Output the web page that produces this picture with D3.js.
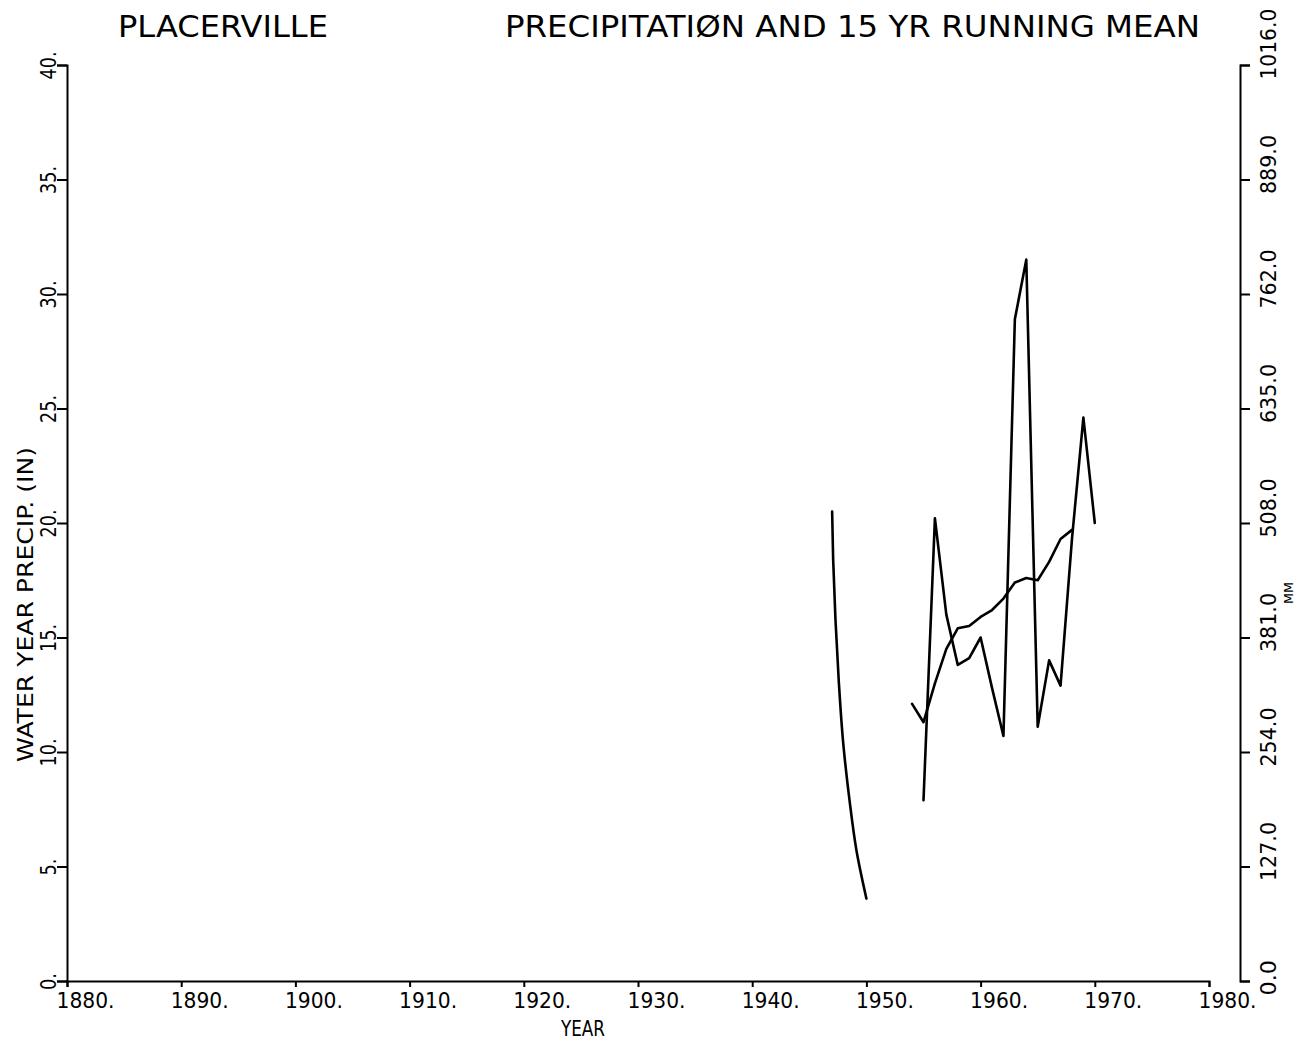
<!DOCTYPE html>
<html>
<head>
<meta charset="utf-8">
<script src="https://cdn.jsdelivr.net/npm/d3@7"></script>
<style>
  html, body { margin: 0; padding: 0; background: #fff; }
  svg { display: block; }
  text { font-family: "DejaVu Sans", "Liberation Sans", sans-serif; fill: #000; }
</style>
</head>
<body>
<script>
// ---- data ----
const stationName = "PLACERVILLE";
const chartTitle = "PRECIPITATIØN AND 15 YR RUNNING MEAN";
const xTickValues = [1880, 1890, 1900, 1910, 1920, 1930, 1940, 1950, 1960, 1970, 1980];
const yTickValues = [0, 5, 10, 15, 20, 25, 30, 35, 40];
const mmTickValues = [0, 127, 254, 381, 508, 635, 762, 889, 1016];

// early plotted segment (1947-1950)
const earlyYears  = [1947.0, 1947.09, 1947.29, 1947.58, 1947.95, 1948.52, 1949.13, 1950.0];
const earlyPrecip = [20.5, 18.4, 15.8, 13.1, 10.5, 7.9, 5.7, 3.6];

// annual water-year precipitation (in)
const precipYears  = [1955, 1956, 1957, 1958, 1959, 1960, 1961, 1962, 1963, 1964, 1965, 1966, 1967, 1968, 1969, 1970];
const precipValues = [7.9, 20.2, 16.0, 13.8, 14.1, 15.0, 12.8, 10.7, 28.9, 31.5, 11.1, 14.0, 12.9, 19.3, 24.6, 20.0];

// 15 yr running mean (in)
const meanYears  = [1954, 1955, 1956, 1957, 1958, 1959, 1960, 1961, 1962, 1963, 1964, 1965, 1966, 1967, 1968];
const meanValues = [12.1, 11.3, 13.0, 14.5, 15.4, 15.5, 15.9, 16.2, 16.7, 17.4, 17.6, 17.5, 18.3, 19.3, 19.7];

// ---- drawing ----
const W = 1298, H = 1043;
const svg = d3.select("body").append("svg").attr("width", W).attr("height", H);
svg.append("rect").attr("width", W).attr("height", H).attr("fill", "#fff");

const x = d3.scaleLinear().domain([1880, 1980]).range([67, 1209]);
const y = d3.scaleLinear().domain([0, 40]).range([981, 65]);
const yMM = d3.scaleLinear().domain([0, 1016]).range([981, 65]);
const axisLeftX = 67, axisRightX = 1240, axisBottomY = 981;

function styleAxis(g) {
  g.selectAll("path, line").attr("stroke", "#000").attr("stroke-width", 2);
  g.selectAll("text").remove();
}

// bottom axis
const gx = svg.append("g").attr("transform", `translate(0,${axisBottomY})`)
  .call(d3.axisBottom(x).tickValues(xTickValues).tickSize(6).tickSizeOuter(6))
  .call(styleAxis);
gx.selectAll(".tick").append("text")
  .attr("x", 18).attr("y", 27)
  .attr("text-anchor", "middle")
  .attr("font-size", 22)
  .attr("textLength", 58).attr("lengthAdjust", "spacingAndGlyphs")
  .text(d => d + ".");

// left axis
const gy = svg.append("g").attr("transform", `translate(${axisLeftX},0)`)
  .call(d3.axisLeft(y).tickValues(yTickValues).tickSize(10).tickSizeOuter(10))
  .call(styleAxis);
gy.selectAll(".tick").append("text")
  .attr("transform", "translate(-11,0) rotate(-90)")
  .attr("text-anchor", "middle")
  .attr("font-size", 22)
  .attr("textLength", d => (String(d).length * 11 + 6))
  .attr("lengthAdjust", "spacingAndGlyphs")
  .text(d => d + ".");

// right axis (mm)
const gr = svg.append("g").attr("transform", `translate(${axisRightX},0)`)
  .call(d3.axisRight(yMM).tickValues(mmTickValues).tickSize(10).tickSizeOuter(10))
  .call(styleAxis);
gr.selectAll(".tick").append("text")
  .attr("transform", "translate(36,14) rotate(-90)")
  .attr("text-anchor", "start")
  .attr("font-size", 21)
  .attr("textLength", d => d.toFixed(1).length * 11.8)
  .attr("lengthAdjust", "spacingAndGlyphs")
  .text(d => d.toFixed(1));

// titles
svg.append("text").attr("x", 118).attr("y", 37)
  .attr("font-size", 30).attr("textLength", 210).attr("lengthAdjust", "spacingAndGlyphs")
  .text(stationName);
svg.append("text").attr("x", 505).attr("y", 37)
  .attr("font-size", 30).attr("textLength", 695).attr("lengthAdjust", "spacingAndGlyphs")
  .text(chartTitle);

// axis titles
svg.append("text").attr("transform", "translate(33,762) rotate(-90)")
  .attr("font-size", 22).attr("textLength", 315).attr("lengthAdjust", "spacingAndGlyphs")
  .text("WATER YEAR PRECIP. (IN)");
svg.append("text").attr("x", 561).attr("y", 1036)
  .attr("font-size", 22).attr("textLength", 44).attr("lengthAdjust", "spacingAndGlyphs")
  .text("YEAR");
svg.append("text").attr("transform", "translate(1293,604) rotate(-90)")
  .attr("font-size", 13).attr("textLength", 22).attr("lengthAdjust", "spacingAndGlyphs")
  .text("MM");

// data lines
const line = d3.line().x(d => x(d[0])).y(d => y(d[1]));
const smoothLine = d3.line().x(d => x(d[0])).y(d => y(d[1])).curve(d3.curveMonotoneY);
const lineStyle = sel => sel.attr("fill", "none").attr("stroke", "#000")
  .attr("stroke-width", 2.6).attr("stroke-linejoin", "round").attr("stroke-linecap", "round");

svg.append("path").datum(d3.zip(earlyYears, earlyPrecip)).attr("d", smoothLine).call(lineStyle);
svg.append("path").datum(d3.zip(meanYears, meanValues)).attr("d", line).call(lineStyle);
svg.append("path").datum(d3.zip(precipYears, precipValues)).attr("d", line).call(lineStyle);
</script>
</body>
</html>
